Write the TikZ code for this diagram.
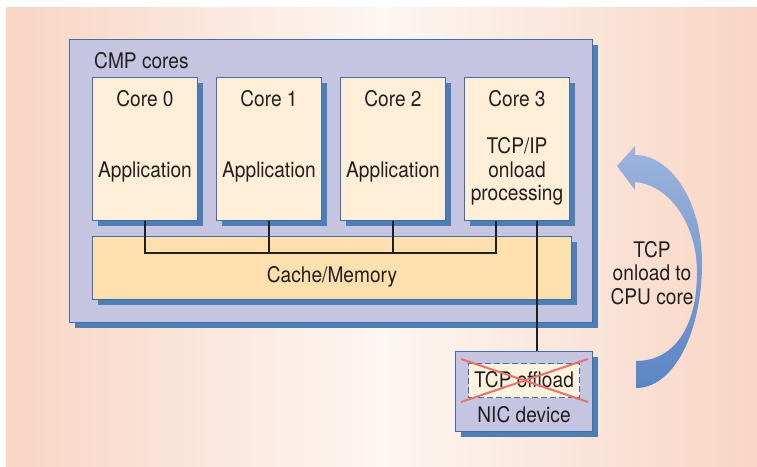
\documentclass[tikz,border=0pt]{standalone}
\usepackage{xcolor}
\usepackage{fontspec}
\setmainfont[FakeStretch=0.89]{TeX Gyre Heros}
\usepackage{tikz}
\usetikzlibrary{positioning, shadows}

\definecolor{bgpeach}{HTML}{F8D5C4}
\definecolor{bgwhite}{HTML}{FDF6F2}
\definecolor{lavender}{HTML}{C5C5E1}
\definecolor{edgeblue}{HTML}{3D70A6}
\definecolor{shadeblue}{HTML}{4E7EB4}
\definecolor{corefill}{HTML}{FFEFD8}
\definecolor{cachefill}{HTML}{FEE0AE}
\definecolor{offfill}{HTML}{FFF3DE}
\definecolor{crossred}{HTML}{E8726C}
\definecolor{inkdark}{HTML}{231F20}
\definecolor{arrowlight}{HTML}{9CB4DD}
\definecolor{arrowdark}{HTML}{5A85C4}

\begin{document}
\begin{tikzpicture}[x=1pt,y=-1pt,
	box/.style = {draw=edgeblue, line width=1pt, inner sep=0pt, anchor=north west, general shadow={fill=shadeblue, shadow xshift=5pt, shadow yshift=-5pt}},
	chip/.style = {box, fill=lavender},
	core/.style = {box, fill=corefill, minimum width=105pt, minimum height=143pt},
	lbl/.style = {inner sep=0pt, text=inkdark, font=\fontsize{21.5}{23.5}\selectfont},
	bus/.style = {line width=2.2pt, draw=inkdark},
	cross/.style = {line width=2pt, draw=crossred}]
	\useasboundingbox (0,0) rectangle (757,466);
	\shade[left color=bgpeach, right color=bgpeach, middle color=bgwhite] (6,7) rectangle (757,466);
	\node[chip, minimum width=523pt, minimum height=283pt] (cmp) at (69,39) {};
	\node[lbl, anchor=base west] (cmpt) at (94,68) {CMP cores};
	\node[core] (c0) at (92,77) {};
	\node[core, right=18pt of c0] (c1) {};
	\node[core, right=18pt of c1] (c2) {};
	\node[core, right=18pt of c2] (c3) {};
	\node[lbl, anchor=base] (t0) at ([yshift=-29pt]c0.north) {Core 0};
	\node[lbl, anchor=base] (t1) at ([yshift=-29pt]c1.north) {Core 1};
	\node[lbl, anchor=base] (t2) at ([yshift=-29pt]c2.north) {Core 2};
	\node[lbl, anchor=base] (t3) at ([yshift=-29pt]c3.north) {Core 3};
	\node[lbl, anchor=base] (a0) at ([yshift=-100pt]c0.north) {Application};
	\node[lbl, anchor=base] (a1) at ([yshift=-100pt]c1.north) {Application};
	\node[lbl, anchor=base] (a2) at ([yshift=-100pt]c2.north) {Application};
	\node[lbl, align=center] (a3) at ([yshift=-94.5pt]c3.north) {TCP/IP\\onload\\processing};
	\node[box, fill=cachefill, minimum width=479pt, minimum height=63pt] (cache) at (92,236) {};
	\node[lbl, anchor=base] (cachet) at ([yshift=-46pt]cache.north) {Cache/Memory};
	\coordinate (busl) at ([yshift=-32pt]c0.south);
	\draw[bus] (c0.south) -- (busl) -| ([xshift=-21pt]c3.south);
	\draw[bus] (c1.south) -- (c1.south |- busl);
	\draw[bus] (c2.south) -- (c2.south |- busl);
	\node[chip, minimum width=137pt, minimum height=80pt] (nic) at (455,351) {};
	\node[draw=edgeblue, dash pattern=on 6pt off 3pt, line width=1pt, fill=offfill, minimum width=111pt, minimum height=34pt, inner sep=0pt, anchor=north west] (off) at (468,363) {};
	\node[lbl, anchor=base] (offt) at ([yshift=-24pt]off.north) {TCP offload};
	\draw[cross] ([xshift=-7pt,yshift=4pt]off.north west) -- ([xshift=8pt,yshift=-4pt]off.south east);
	\draw[cross] ([xshift=-7pt,yshift=-4pt]off.south west) -- ([xshift=8pt,yshift=4pt]off.north east);
	\node[lbl, anchor=base] (nict) at ([yshift=-71pt]nic.north) {NIC device};
	\draw[bus] ([xshift=20pt]c3.south) -- ([xshift=20pt]c3.south |- nic.north);
	\shade[top color=arrowlight, bottom color=arrowdark] (636,388) .. controls (675,388) and (702,330) .. (702,263) .. controls (702,200) and (670,155) .. (635,155) -- (635,146) -- (617,166) -- (635,190) -- (635,182) .. controls (670,185) and (697,225) .. (697,272) .. controls (697,330) and (672,361) .. (636,361) -- cycle;
	\node[lbl, align=center] (arrt) at (652,273) {TCP\\onload to\\CPU core};
\end{tikzpicture}
\end{document}
